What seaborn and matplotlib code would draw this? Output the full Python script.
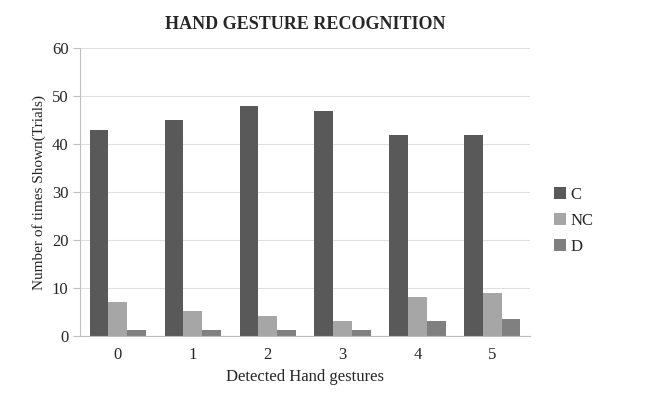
import numpy as np
import pandas as pd
import matplotlib.pyplot as plt
import seaborn as sns

gestures = ["0", "1", "2", "3", "4", "5"]
c_vals = [43, 45, 48, 47, 42, 42]
nc_vals = [7.2, 5.3, 4.2, 3.2, 8.2, 9.0]
d_vals = [1.3, 1.3, 1.3, 1.3, 3.2, 3.6]
series = ["C", "NC", "D"]
colors = ["#595959", "#a6a6a6", "#808080"]

df = pd.DataFrame({
    "gesture": gestures * 3,
    "value": c_vals + nc_vals + d_vals,
    "series": ["C"] * 6 + ["NC"] * 6 + ["D"] * 6,
})

sns.set_style("white")
plt.rcParams["font.family"] = ["Liberation Serif", "DejaVu Serif"]

fig = plt.figure(figsize=(6.69, 3.95), dpi=100)
ax = fig.add_axes([0.12, 0.149, 0.672, 0.729])
ax.yaxis.grid(True, color="#e0e0e0", linewidth=0.8)
ax.set_axisbelow(True)
sns.barplot(data=df, x="gesture", y="value", hue="series", hue_order=series,
            palette=colors, width=0.75, ax=ax, saturation=1, linewidth=0)
ax.set_ylim(0, 60)
ax.set_yticks(range(0, 61, 10))
ax.set_xlim(-0.5, 5.5)
for s in ["top", "right"]:
    ax.spines[s].set_visible(False)
ax.spines["left"].set_color("#bfbfbf")
ax.spines["bottom"].set_color("#bfbfbf")
ax.set_xticks(np.arange(-0.5, 6, 1), minor=True)
ax.tick_params(axis="x", which="major", length=0, labelsize=12, pad=8)
ax.tick_params(axis="x", which="minor", length=5, color="#bfbfbf")
ax.tick_params(axis="y", length=5, color="#bfbfbf", labelsize=12, left=True)
ax.set_xlabel("Detected Hand gestures", fontsize=12)
ax.set_ylabel("Number of times Shown(Trials)", fontsize=11)
ax.set_title("HAND GESTURE RECOGNITION", fontsize=13, fontweight="bold", pad=14)
ax.legend(loc="center left", bbox_to_anchor=(1.02, 0.40), frameon=False,
          fontsize=12, handlelength=0.7, handleheight=0.7, handletextpad=0.3,
          labelspacing=0.6)
fig.savefig("out.png", dpi=100)
